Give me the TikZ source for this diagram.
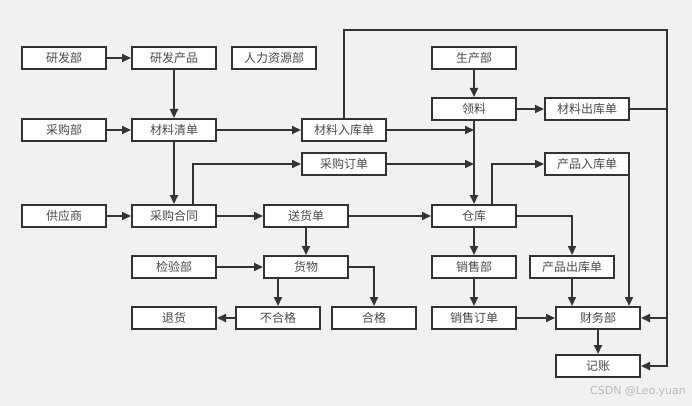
\documentclass[tikz,border=0pt]{standalone}
\usepackage{fontspec}
\setmainfont{Noto Sans CJK SC}
\usetikzlibrary{arrows.meta}
\definecolor{bg}{HTML}{F1F1F1}
\definecolor{ln}{HTML}{333333}
\definecolor{tx}{HTML}{4A4A4A}
\begin{document}
\begin{tikzpicture}[x=1pt,y=-1pt,
  box/.style={draw=ln,line width=2pt,fill=white,minimum width=84pt,minimum height=22pt,inner sep=0pt,text=tx,font=\fontsize{12}{12}\selectfont},
  conn/.style={draw=ln,line width=2pt},
  arr/.style={conn,-{Triangle[length=9pt,width=8pt]}}]
\fill[bg] (0,0) rectangle (692,406);
\useasboundingbox (0,0) rectangle (692,406);
\node[box] (rd) at (64,58) {研发部};
\node[box] (rdp) at (174,58) {研发产品};
\node[box] (rl) at (274,58) {人力资源部};
\node[box] (cgb) at (64,130) {采购部};
\node[box] (clqd) at (174,130) {材料清单};
\node[box] (clrk) at (344,130) {材料入库单};
\node[box] (sc) at (474,58) {生产部};
\node[box] (ll) at (474,109) {领料};
\node[box] (clck) at (587,109) {材料出库单};
\node[box] (cgdd) at (344,164) {采购订单};
\node[box] (cprk) at (587,164) {产品入库单};
\node[box] (gys) at (64,216) {供应商};
\node[box] (cght) at (174,216) {采购合同};
\node[box] (shd) at (306,216) {送货单};
\node[box] (ck) at (474,216) {仓库};
\node[box] (jyb) at (174,267) {检验部};
\node[box] (hw) at (306,267) {货物};
\node[box] (xsb) at (474,267) {销售部};
\node[box] (cpck) at (572,267) {产品出库单};
\node[box] (th) at (174,318) {退货};
\node[box] (bhg) at (278,318) {不合格};
\node[box] (hg) at (374,318) {合格};
\node[box] (xsdd) at (474,318) {销售订单};
\node[box] (cwb) at (598,318) {财务部};
\node[box] (jz) at (598,366) {记账};
\coordinate (tr) at (667,30);
\node[text=gray!55,font=\fontsize{11}{11}\selectfont\fontspec{DejaVu Sans}] (wm) at (638,392) {CSDN @Leo.yuan};
% connectors
\draw[arr] (rd) -- (rdp);
\draw[arr] (rdp) -- (clqd);
\draw[arr] (cgb) -- (clqd);
\draw[arr] (clqd) -- (clrk);
\draw[arr] (clqd) -- (cght);
\draw[arr] ([xshift=19pt]cght.north) |- (cgdd.west);
\draw[arr] (gys) -- (cght);
\draw[arr] (cght) -- (shd);
\draw[arr] (shd) -- (ck);
\draw[arr] (shd) -- (hw);
\draw[arr] (jyb) -- (hw);
\draw[arr] (hw.south -| bhg) -- (bhg);
\draw[arr] (bhg) -- (th);
\draw[arr] (hw.east) -| (hg.north);
\draw[arr] (sc) -- (ll);
\draw[arr] (ll) -- (clck);
\draw[arr] (ll) -- (ck);
\draw[arr] (clrk.east) -- (clrk.east -| ll);
\draw[arr] (cgdd.east) -- (cgdd.east -| ll);
\draw[arr] ([xshift=18pt]ck.north) |- (cprk.west);
\draw[arr] (ck.east) -| (cpck.north);
\draw[arr] (ck) -- (xsb);
\draw[arr] (xsb) -- (xsdd);
\draw[arr] (xsdd) -- (cwb);
\draw[arr] (cpck.south) -- (cpck.south |- cwb.north);
\draw[arr] ([xshift=-1pt]cprk.south east) -- ([xshift=-1pt]cprk.south east |- cwb.north);
\draw[arr] (cwb) -- (jz);
\draw[arr] (clrk.north) |- (tr) |- (jz.east);
\draw[arr] (tr |- cwb.east) -- (cwb.east);
\draw[conn] (clck.east) -- (clck.east -| tr);
\end{tikzpicture}
\end{document}
